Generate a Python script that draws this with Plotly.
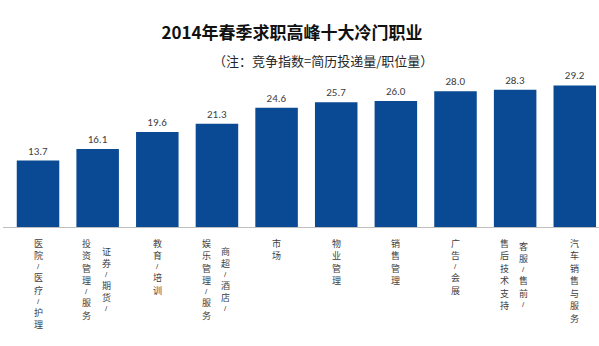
import plotly.graph_objects as go

categories = ["医院/医疗/护理", "证券/期货/投资管理/服务", "教育/培训", "商超/酒店/娱乐管理/服务",
              "市场", "物业管理", "销售管理", "广告/会展", "客服/售前/售后技术支持", "汽车销售与服务"]
values = [13.7, 16.1, 19.6, 21.3, 24.6, 25.7, 26.0, 28.0, 28.3, 29.2]
# tick label columns, left-to-right, as drawn vertically
tick_columns = [["医院/医疗/护理"], ["投资管理/服务", "证券/期货/"], ["教育/培训"],
                ["娱乐管理/服务", "商超/酒店/"], ["市场"], ["物业管理"], ["销售管理"],
                ["广告/会展"], ["售后技术支持", "客服/售前/"], ["汽车销售与服务"]]

title_text = "2014年春季求职高峰十大冷门职业"
subtitle_text = "（注：竞争指数=简历投递量/职位量）"

W, H = 599, 346
ML, MR, MT, MB = 3, 0, 70, 119
plot_w = W - ML - MR
plot_h = H - MT - MB
step_px = 59.64
x0 = -0.5 - 5.2 / step_px
x1 = x0 + plot_w / step_px
px_per_unit = 4.85

FONT = "Noto Sans CJK SC, Noto Sans, sans-serif"
BAR_COLOR = "#0A4A94"
TXT = "#404040"

fig = go.Figure()
fig.add_trace(go.Bar(
    x=list(range(len(categories))), y=values,
    marker=dict(color=BAR_COLOR, line=dict(width=0)),
    text=[f"{v:.1f}" for v in values], textposition="outside",
    textfont=dict(family="Carlito, Liberation Sans, sans-serif", size=11, color=TXT),
    cliponaxis=False, hovertext=categories, width=0.713,
))

# vertical (stacked) category labels: one annotation per character
CJK_FS, CJK_P = 9.0, 12.5
SL_FS, SL_P = 8, 9.4
LABEL_TOP = 237
annotations = []
for i, cols in enumerate(tick_columns):
    n = len(cols)
    heights = [sum(SL_P if c == "/" else CJK_P for c in col) for col in cols]
    center = LABEL_TOP + max(heights) / 2.0
    for j, col in enumerate(cols):
        xs = (j - (n - 1) / 2.0) * 19.5 - (1 if n > 1 else 0)
        cur = center - heights[j] / 2.0
        for ch in col:
            slash = ch == "/"
            p = SL_P if slash else CJK_P
            cy = cur + p / 2.0
            cur += p
            annotations.append(dict(
                x=i, xref="x", y=0, yref="paper", yanchor="middle", xanchor="center",
                yshift=-(cy - (H - MB)), xshift=xs, showarrow=False, text=ch, borderpad=0,
                font=dict(family="Liberation Sans, sans-serif" if slash else FONT,
                          size=SL_FS if slash else CJK_FS, color=TXT),
            ))

annotations.append(dict(
    x=(323 - ML) / plot_w, xref="paper", y=(H - MB - 60) / plot_h, yref="paper",
    xanchor="center", yanchor="middle", showarrow=False, text=subtitle_text,
    font=dict(family=FONT, size=13, color="#262626"),
))

fig.update_layout(
    width=W, height=H, margin=dict(l=ML, r=MR, t=MT, b=MB),
    paper_bgcolor="white", plot_bgcolor="white",
    title=dict(text=f"<b>{title_text}</b>", x=292 / W, xanchor="center",
               y=1 - 33 / H, yanchor="middle",
               font=dict(family=FONT, size=17, color="#111111")),
    xaxis=dict(range=[x0, x1], showticklabels=False, showgrid=False, zeroline=False,
               showline=True, linecolor="#BFBFBF", linewidth=1, ticks=""),
    yaxis=dict(range=[0, plot_h / px_per_unit], visible=False, showgrid=False),
    showlegend=False, annotations=annotations,
)

fig.write_html("out.html")
